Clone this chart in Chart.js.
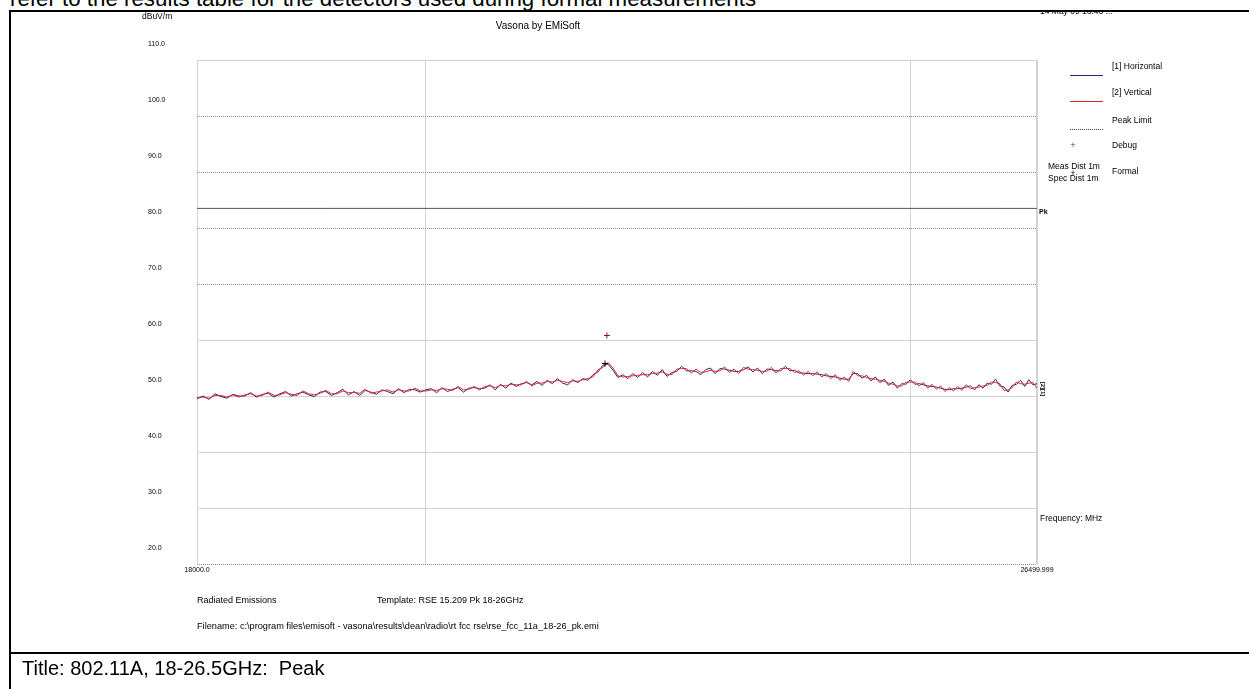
<!DOCTYPE html>
<html>
<head>
<meta charset="utf-8">
<script src="https://cdn.jsdelivr.net/npm/chart.js@4"></script>
<style>
  html, body { margin: 0; padding: 0; background: #fff; }
  body { width: 1249px; height: 689px; position: relative; overflow: hidden; font-family: "Liberation Sans", Arial, sans-serif; color: #000; }
  #plot { position: absolute; left: 0; top: 0; }
  .t { position: absolute; font-size: 8.5px; line-height: 10px; white-space: pre; }
  .foot { font-size: 9px; }
  .rule { position: absolute; background: #000; }
  .big { position: absolute; font-size: 20px; line-height: 20px; white-space: pre; }
  .key { position: absolute; height: 0; width: 33px; left: 1070px; }
</style>
</head>
<body>
<div class="big" style="left:10px; top:-11px; font-size:22.3px;">refer to the results table for the detectors used during formal measurements</div>
<canvas id="plot" width="1249" height="689"></canvas>

<div class="rule" style="left:9px; top:10px; width:1240px; height:2px;"></div>
<div class="rule" style="left:9px; top:10px; width:2px; height:679px;"></div>
<div class="rule" style="left:9px; top:652px; width:1240px; height:2px;"></div>
<div class="big" style="left:22px; top:658px;">Title: 802.11A, 18-26.5GHz:  Peak</div>

<!-- graph header -->
<div class="t" style="left:142px; top:11px;">dBuV/m</div>
<div class="t" style="left:538px; top:21px; font-size:10px; transform:translateX(-50%);">Vasona by EMiSoft</div>
<div style="position:absolute; left:1030px; top:12px; width:150px; height:10px; overflow:hidden;">
  <div class="t" style="left:10px; top:-6px;">14 May 09 16:43 ...</div>
</div>

<!-- legend -->
<div class="key" style="top:75px; border-top:1px solid #26267e;"></div>
<div class="t" style="left:1112px; top:61px;">[1] Horizontal</div>
<div class="key" style="top:101px; border-top:1px solid #e3262b;"></div>
<div class="t" style="left:1112px; top:87px;">[2] Vertical</div>
<div class="key" style="top:129px; border-top:1px dotted #444;"></div>
<div class="t" style="left:1112px; top:115px;">Peak Limit</div>
<div class="t" style="left:1073px; top:140px; color:#8b1a1a; transform:translateX(-50%);">+</div>
<div class="t" style="left:1112px; top:140px;">Debug</div>
<div class="t" style="left:1073px; top:168px; transform:translateX(-50%);">+</div>
<div class="t" style="left:1048px; top:161px;">Meas Dist 1m</div>
<div class="t" style="left:1048px; top:173px;">Spec Dist 1m</div>
<div class="t" style="left:1112px; top:166px;">Formal</div>

<!-- labels beside the plot -->
<div class="t" style="left:1039px; top:207px; font-size:7px; font-weight:bold;">Pk</div>
<div class="t" style="left:1036px; top:386px; font-size:6px; line-height:6px; font-weight:bold; transform:rotate(90deg);">[2][1]</div>
<div class="t" style="left:1040px; top:513px;">Frequency: MHz</div>

<!-- footer of the graph -->
<div class="t foot" style="left:197px; top:595px;">Radiated Emissions</div>
<div class="t foot" style="left:377px; top:595px;">Template: RSE 15.209 Pk 18-26GHz</div>
<div class="t foot" style="left:197px; top:621px; font-size:9.2px;">Filename: c:\program files\emisoft - vasona\results\dean\radio\rt fcc rse\rse_fcc_11a_18-26_pk.emi</div>

<script>
// sweep frequencies, MHz
var freqs = [
  18000, 18050, 18100, 18150, 18200, 18250, 18300, 18350, 18400, 18450,
  18500, 18550, 18600, 18650, 18700, 18750, 18800, 18850, 18900, 18950,
  19000, 19050, 19100, 19150, 19200, 19250, 19300, 19350, 19400, 19450,
  19500, 19550, 19600, 19650, 19700, 19750, 19800, 19850, 19900, 19950,
  20000, 20050, 20100, 20150, 20200, 20250, 20300, 20350, 20400, 20450,
  20500, 20550, 20600, 20650, 20700, 20750, 20800, 20850, 20900, 20950,
  21000, 21050, 21100, 21150, 21200, 21250, 21300, 21350, 21400, 21450,
  21500, 21550, 21600, 21650, 21700, 21750, 21800, 21850, 21900, 21950,
  22000, 22050, 22100, 22150, 22200, 22250, 22300, 22350, 22400, 22450,
  22500, 22550, 22600, 22650, 22700, 22750, 22800, 22850, 22900, 22950,
  23000, 23050, 23100, 23150, 23200, 23250, 23300, 23350, 23400, 23450,
  23500, 23550, 23600, 23650, 23700, 23750, 23800, 23850, 23900, 23950,
  24000, 24050, 24100, 24150, 24200, 24250, 24300, 24350, 24400, 24450,
  24500, 24550, 24600, 24650, 24700, 24750, 24800, 24850, 24900, 24950,
  25000, 25050, 25100, 25150, 25200, 25250, 25300, 25350, 25400, 25450,
  25500, 25550, 25600, 25650, 25700, 25750, 25800, 25850, 25900, 25950,
  26000, 26050, 26100, 26150, 26200, 26250, 26300, 26350, 26400, 26450,
  26499.999
];

// [1] Horizontal, dBuV/m
var horizontal = [
  49.5, 50.0, 49.4, 50.4, 49.9, 49.6, 50.3, 50.0, 50.0, 50.6, 49.8,
  50.3, 50.5, 49.8, 50.4, 50.8, 50.0, 50.4, 50.7, 50.2, 49.9,
  50.7, 50.8, 50.1, 50.6, 51.2, 50.2, 50.8, 50.1, 51.0, 50.7,
  50.3, 51.1, 50.8, 50.4, 51.3, 50.6, 51.2, 51.1, 50.7, 51.1,
  51.3, 50.6, 51.5, 50.8, 51.2, 51.5, 50.7, 51.4, 51.5, 51.3,
  51.4, 52.0, 51.1, 52.1, 51.4, 52.3, 51.7, 52.2, 52.4, 52.0,
  52.6, 51.9, 52.8, 52.2, 53.1, 52.3, 52.0, 52.9, 52.4, 53.1,
  52.8, 53.8, 54.3, 55.5, 55.7, 54.6, 53.3, 53.8, 53.1, 54.0,
  53.3, 54.2, 53.4, 54.4, 53.7, 54.7, 53.5, 54.2, 54.4, 55.3,
  54.5, 54.5, 54.4, 53.8, 54.7, 55.0, 54.0, 54.9, 54.8, 54.6,
  54.4, 54.4, 54.7, 55.2, 54.3, 55.0, 54.0, 54.8, 54.7, 54.5,
  54.5, 55.3, 54.5, 54.6, 54.1, 54.1, 54.0, 54.0, 53.9, 53.8,
  53.6, 53.5, 53.4, 53.2, 53.0, 53.0, 54.0, 54.0, 53.2, 53.7,
  52.7, 53.4, 52.4, 53.0, 51.9, 52.5, 51.4, 52.2, 52.1, 52.9,
  52.1, 52.2, 52.0, 51.8, 51.7, 51.6, 51.4, 51.2, 51.1, 51.3,
  51.3, 51.4, 51.6, 51.8, 51.1, 52.0, 51.4, 52.3, 52.1, 53.0,
  51.8, 51.6, 50.7, 51.9, 52.1, 52.8, 51.7, 52.9, 52.0, 52.2, 51.4
];

// [2] Vertical, dBuV/m
var vertical = [
  49.7, 49.8, 49.6, 50.1, 50.1, 49.8, 50.2, 49.8, 50.2, 50.4, 50.0,
  50.1, 50.7, 50.1, 50.2, 50.6, 50.3, 50.1, 50.9, 50.4, 50.2,
  50.5, 51.0, 50.4, 50.4, 50.9, 50.6, 50.6, 50.5, 51.2, 50.5,
  50.7, 50.9, 51.1, 50.7, 51.1, 50.9, 50.9, 51.4, 50.9, 50.9,
  51.1, 51.0, 51.3, 51.2, 51.0, 51.7, 51.1, 51.2, 51.7, 51.1,
  51.7, 51.8, 51.5, 51.9, 51.8, 52.1, 52.0, 52.0, 52.6, 51.8,
  52.3, 52.3, 52.6, 52.5, 52.8, 52.6, 52.4, 52.7, 52.6, 52.9,
  53.1, 53.4, 54.7, 55.1, 56.0, 55.0, 53.6, 53.4, 53.5, 53.6,
  53.7, 53.8, 53.8, 54.0, 54.1, 54.3, 53.9, 53.8, 54.8, 54.9,
  54.9, 54.1, 54.8, 54.2, 54.3, 54.6, 54.4, 54.5, 55.2, 54.2,
  54.8, 54.0, 55.1, 54.8, 54.7, 54.6, 54.4, 54.4, 55.1, 54.1,
  54.9, 54.9, 54.9, 54.2, 54.5, 53.7, 54.4, 53.6, 54.3, 53.4,
  54.0, 53.1, 53.8, 52.8, 53.4, 52.6, 54.4, 53.6, 53.6, 53.3,
  53.1, 53.0, 52.8, 52.6, 52.3, 52.1, 51.8, 51.8, 52.5, 52.5,
  52.5, 51.8, 52.4, 51.4, 52.1, 51.2, 51.8, 50.8, 51.5, 50.9,
  51.7, 51.0, 52.0, 51.3, 51.5, 51.6, 51.8, 51.9, 52.5, 52.4,
  52.2, 51.0, 51.1, 51.5, 52.5, 52.2, 52.1, 52.3, 52.4, 51.4, 50.8
];

var peakLimit = [83.5, 83.5];
var debugFreq = [21739];
var debugLevel = [60.8];
var formalFreq = [21720];
var formalLevel = [55.8];

var yTicks = [20, 30, 40, 50, 60, 70, 80, 90, 100, 110];
var dottedLevels = [20, 70, 80, 90, 100];
var xTicks = [18000, 20000, 25000, 26499.999];
var xTickLabels = ['18000.0', '', '', '26499.999'];

var tickFont = { family: '"Liberation Sans", Arial, sans-serif', size: 7 };

function toPoints(xs, ys) {
  return ys.map(function (v, i) { return { x: xs[i], y: v }; });
}

var lastFreq = freqs[freqs.length - 1];

new Chart(document.getElementById('plot').getContext('2d'), {
  type: 'line',
  data: {
    datasets: [
      { label: '[1] Horizontal', data: toPoints(freqs, horizontal), borderColor: '#26267e', borderWidth: 1, pointRadius: 0, order: 2 },
      { label: '[2] Vertical', data: toPoints(freqs, vertical), borderColor: '#e3262b', borderWidth: 1, pointRadius: 0, order: 1 },
      { label: 'Peak Limit', data: toPoints([freqs[0], lastFreq], peakLimit), borderColor: '#555555', borderWidth: 1, pointRadius: 0, order: 3 },
      { label: 'Debug', data: toPoints(debugFreq, debugLevel), showLine: false, pointStyle: 'cross', pointRadius: 3, borderColor: '#8b1a1a', borderWidth: 1, order: 0 },
      { label: 'Formal', data: toPoints(formalFreq, formalLevel), showLine: false, pointStyle: 'cross', pointRadius: 3, borderColor: '#000000', borderWidth: 1, order: 0 }
    ]
  },
  options: {
    responsive: false,
    animation: false,
    events: [],
    layout: { padding: { left: 148, top: 60, right: 212, bottom: 105 } },
    plugins: { legend: { display: false }, tooltip: { enabled: false } },
    scales: {
      x: {
        type: 'logarithmic',
        min: 18000,
        max: 26499.999,
        afterBuildTicks: function (scale) {
          scale.ticks = xTicks.map(function (v) { return { value: v }; });
        },
        afterFit: function (scale) { scale.height = 20; },
        ticks: {
          autoSkip: false,
          maxRotation: 0,
          padding: 2,
          color: '#000',
          font: tickFont,
          callback: function (v, i) { return xTickLabels[i]; }
        },
        grid: {
          drawTicks: false,
          color: '#d2d2d2',
          lineWidth: function (ctx) { return ctx.index === xTicks.length - 1 ? 2 : 1; }
        },
        border: { display: false }
      },
      y: {
        min: 20,
        max: 110,
        afterBuildTicks: function (scale) {
          scale.ticks = yTicks.map(function (v) { return { value: v }; });
        },
        afterFit: function (scale) { scale.width = 49; },
        ticks: {
          crossAlign: 'far',
          labelOffset: -16,
          color: '#000',
          font: tickFont,
          callback: function (v) { return Number(v).toFixed(1); }
        },
        grid: {
          drawTicks: false,
          color: function (ctx) {
            return ctx.tick && dottedLevels.indexOf(ctx.tick.value) >= 0 ? '#8c8c8c' : '#d2d2d2';
          }
        },
        border: {
          display: false,
          dash: function (ctx) {
            return ctx.tick && dottedLevels.indexOf(ctx.tick.value) >= 0 ? [1, 1] : [];
          }
        }
      }
    }
  }
});
</script>
</body>
</html>
